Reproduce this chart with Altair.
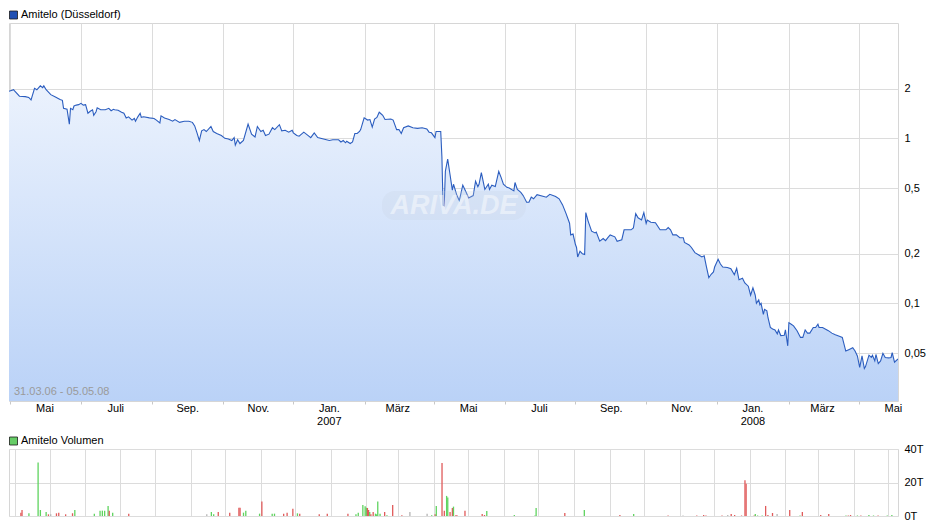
import altair as alt
import pandas as pd

# ---------------- data ----------------
price_dates = [
    "2006-03-31", "2006-04-04", "2006-04-05", "2006-04-09", "2006-04-14", "2006-04-17", "2006-04-19",
    "2006-04-22", "2006-04-24", "2006-04-27", "2006-04-29", "2006-04-30",
    "2006-05-02", "2006-05-06", "2006-05-10", "2006-05-14", "2006-05-16", "2006-05-17", "2006-05-20",
    "2006-05-22", "2006-05-23", "2006-05-25", "2006-05-26", "2006-05-28", "2006-05-30",
    "2006-06-01", "2006-06-03", "2006-06-05", "2006-06-07", "2006-06-09", "2006-06-11", "2006-06-12",
    "2006-06-14", "2006-06-15", "2006-06-18", "2006-06-22", "2006-06-25", "2006-06-27", "2006-06-29", "2006-06-30",
    "2006-07-03", "2006-07-06", "2006-07-08", "2006-07-10", "2006-07-12", "2006-07-15", "2006-07-17",
    "2006-07-18", "2006-07-20", "2006-07-22", "2006-07-23", "2006-07-25", "2006-07-30",
    "2006-08-03", "2006-08-05", "2006-08-08", "2006-08-09", "2006-08-12", "2006-08-16", "2006-08-19",
    "2006-08-21", "2006-08-25", "2006-08-29", "2006-08-31",
    "2006-09-02", "2006-09-05", "2006-09-07", "2006-09-09", "2006-09-11", "2006-09-13", "2006-09-15",
    "2006-09-17", "2006-09-21", "2006-09-23", "2006-09-26", "2006-09-30",
    "2006-10-03", "2006-10-06", "2006-10-09", "2006-10-11", "2006-10-12", "2006-10-14", "2006-10-16",
    "2006-10-19", "2006-10-23", "2006-10-26", "2006-10-29", "2006-10-31",
    "2006-11-03", "2006-11-05", "2006-11-07", "2006-11-10", "2006-11-13", "2006-11-15", "2006-11-19",
    "2006-11-21", "2006-11-24", "2006-11-27", "2006-11-30",
    "2006-12-01", "2006-12-04", "2006-12-06", "2006-12-10", "2006-12-13", "2006-12-16", "2006-12-19",
    "2006-12-22", "2006-12-27",
    "2007-01-01", "2007-01-04", "2007-01-09", "2007-01-11", "2007-01-13", "2007-01-15", "2007-01-16",
    "2007-01-19", "2007-01-21", "2007-01-23", "2007-01-25", "2007-01-27", "2007-01-28", "2007-01-31",
    "2007-02-03", "2007-02-05", "2007-02-07", "2007-02-09", "2007-02-11", "2007-02-13", "2007-02-14",
    "2007-02-16", "2007-02-18", "2007-02-23", "2007-02-25", "2007-02-28",
    "2007-03-02", "2007-03-04", "2007-03-06", "2007-03-10", "2007-03-14", "2007-03-18", "2007-03-22",
    "2007-03-26", "2007-03-28", "2007-03-30",
    "2007-04-02", "2007-04-03", "2007-04-07", "2007-04-08", "2007-04-09", "2007-04-10", "2007-04-11",
    "2007-04-13", "2007-04-15", "2007-04-17", "2007-04-18", "2007-04-21", "2007-04-23", "2007-04-26", "2007-04-29",
    "2007-05-01", "2007-05-05", "2007-05-07", "2007-05-09", "2007-05-10", "2007-05-12", "2007-05-15",
    "2007-05-18", "2007-05-19", "2007-05-21", "2007-05-24", "2007-05-27", "2007-05-29", "2007-05-31",
    "2007-06-03", "2007-06-05", "2007-06-09", "2007-06-10", "2007-06-12", "2007-06-15", "2007-06-17",
    "2007-06-20", "2007-06-22", "2007-06-24", "2007-06-26", "2007-06-29",
    "2007-07-04", "2007-07-07", "2007-07-10", "2007-07-15", "2007-07-18", "2007-07-21", "2007-07-24",
    "2007-07-27", "2007-07-28", "2007-07-30",
    "2007-08-01", "2007-08-02", "2007-08-03", "2007-08-05", "2007-08-07", "2007-08-09", "2007-08-10",
    "2007-08-12", "2007-08-15", "2007-08-18", "2007-08-19", "2007-08-22", "2007-08-25", "2007-08-27",
    "2007-08-29", "2007-08-31",
    "2007-09-04", "2007-09-06", "2007-09-10", "2007-09-12", "2007-09-18", "2007-09-20", "2007-09-22",
    "2007-09-24", "2007-09-27", "2007-09-29",
    "2007-10-01", "2007-10-02", "2007-10-05", "2007-10-09", "2007-10-13", "2007-10-18", "2007-10-20",
    "2007-10-22", "2007-10-24", "2007-10-27", "2007-10-30",
    "2007-11-02", "2007-11-03", "2007-11-07", "2007-11-09", "2007-11-12", "2007-11-15", "2007-11-18",
    "2007-11-20", "2007-11-22", "2007-11-24", "2007-11-26", "2007-11-28", "2007-11-29",
    "2007-12-02", "2007-12-04", "2007-12-06", "2007-12-10", "2007-12-13", "2007-12-16", "2007-12-18",
    "2007-12-20", "2007-12-23", "2007-12-25", "2007-12-28", "2007-12-30",
    "2008-01-01", "2008-01-03", "2008-01-04", "2008-01-06", "2008-01-07", "2008-01-08", "2008-01-10",
    "2008-01-11", "2008-01-13", "2008-01-14", "2008-01-16", "2008-01-18", "2008-01-20", "2008-01-22",
    "2008-01-23", "2008-01-25", "2008-01-28", "2008-01-29", "2008-01-31",
    "2008-02-01", "2008-02-03", "2008-02-05", "2008-02-08", "2008-02-11", "2008-02-13", "2008-02-15",
    "2008-02-17", "2008-02-19", "2008-02-22", "2008-02-24", "2008-02-26", "2008-02-27",
    "2008-03-01", "2008-03-06", "2008-03-09", "2008-03-12", "2008-03-16", "2008-03-18", "2008-03-21",
    "2008-03-24", "2008-03-27", "2008-03-29", "2008-03-31",
    "2008-04-02", "2008-04-04", "2008-04-06", "2008-04-07", "2008-04-10", "2008-04-12", "2008-04-13",
    "2008-04-15", "2008-04-16", "2008-04-18", "2008-04-20", "2008-04-22", "2008-04-24", "2008-04-27",
    "2008-04-29", "2008-04-30",
    "2008-05-02", "2008-05-05",
]
price_values = [
    1.93, 1.97, 1.93, 1.80, 1.79, 1.77, 1.71, 2.01, 1.97, 2.08, 2.03, 2.08,
    1.97, 1.84, 1.78, 1.72, 1.70, 1.52, 1.50, 1.22, 1.52, 1.49, 1.57, 1.59, 1.60,
    1.63, 1.59, 1.60, 1.42, 1.46, 1.49, 1.38, 1.45, 1.53, 1.49, 1.49, 1.52, 1.47, 1.50, 1.49,
    1.48, 1.44, 1.42, 1.33, 1.35, 1.29, 1.32, 1.27, 1.35, 1.42, 1.34, 1.35, 1.33,
    1.32, 1.29, 1.24, 1.37, 1.33, 1.30, 1.27, 1.30, 1.25, 1.27, 1.27,
    1.27, 1.25, 1.19, 1.08, 0.97, 1.11, 1.13, 1.10, 1.18, 1.10, 1.07, 1.04,
    1.00, 0.99, 0.97, 1.01, 0.91, 0.98, 0.93, 0.97, 1.22, 1.06, 1.02, 1.18,
    1.10, 1.12, 1.04, 1.06, 1.16, 1.13, 1.21, 1.11, 1.12, 1.09, 1.12,
    1.08, 1.04, 1.03, 1.09, 1.05, 1.01, 1.08, 1.01, 0.99,
    0.97, 0.98, 0.98, 0.95, 0.97, 0.94, 0.96, 0.93, 0.95, 1.07, 1.07, 1.10, 1.13, 1.33,
    1.29, 1.30, 1.17, 1.31, 1.34, 1.44, 1.42, 1.38, 1.30, 1.31, 1.29, 1.13,
    1.13, 1.07, 1.16, 1.19, 1.16, 1.15, 1.16, 1.14, 1.09, 1.08,
    1.01, 1.10, 1.10, 0.775, 0.393, 0.39, 0.632, 0.748, 0.604, 0.486, 0.527, 0.45, 0.42, 0.52, 0.47,
    0.435, 0.45, 0.55, 0.51, 0.527, 0.62, 0.49, 0.527, 0.49, 0.52, 0.51, 0.63, 0.58, 0.527,
    0.505, 0.50, 0.48, 0.54, 0.49, 0.47, 0.45, 0.41, 0.41, 0.44, 0.43, 0.456,
    0.446, 0.44, 0.458, 0.444, 0.43, 0.395, 0.35, 0.306, 0.26, 0.263,
    0.228, 0.218, 0.191, 0.207, 0.20, 0.198, 0.355, 0.315, 0.274, 0.267, 0.27, 0.238, 0.247, 0.24,
    0.25, 0.26,
    0.253, 0.238, 0.243, 0.279, 0.279, 0.286, 0.35, 0.33, 0.32, 0.355,
    0.305, 0.32, 0.31, 0.308, 0.279, 0.279, 0.288, 0.279, 0.26, 0.26, 0.25,
    0.25, 0.234, 0.226, 0.218, 0.203, 0.197, 0.191, 0.194, 0.166, 0.143, 0.15, 0.155, 0.166,
    0.185, 0.173, 0.166, 0.165, 0.162, 0.149, 0.163, 0.139, 0.142, 0.133, 0.127, 0.112,
    0.124, 0.112, 0.100, 0.105, 0.098, 0.100, 0.0857, 0.092, 0.090, 0.0818, 0.0714, 0.070, 0.069, 0.0653,
    0.069, 0.0638, 0.064, 0.069, 0.0553,
    0.0764, 0.0747, 0.073, 0.0683, 0.0622, 0.0622, 0.069, 0.066, 0.066, 0.0714, 0.0714, 0.0747, 0.0714,
    0.0714, 0.0683, 0.066, 0.0645, 0.063, 0.0622, 0.0514, 0.0526, 0.0538, 0.0514, 0.048,
    0.0409, 0.048, 0.0403, 0.0414, 0.0485, 0.047, 0.0485, 0.0448, 0.049, 0.0431, 0.0448, 0.0498, 0.047,
    0.0467, 0.047, 0.0502,
    0.044, 0.046,
]

vol_dates = [
    "2006-04-06", "2006-04-07", "2006-04-13", "2006-04-21", "2006-04-23", "2006-04-28", "2006-04-30",
    "2006-05-02", "2006-05-07", "2006-05-09", "2006-05-15", "2006-05-21", "2006-05-23",
    "2006-06-09", "2006-06-14", "2006-06-16", "2006-06-18", "2006-06-21", "2006-06-22", "2006-06-25",
    "2006-07-09", "2006-09-15", "2006-09-19", "2006-09-21", "2006-09-25",
    "2006-10-05", "2006-10-13", "2006-10-14", "2006-10-17", "2006-10-19", "2006-10-31",
    "2006-11-02", "2006-11-11", "2006-11-13", "2006-11-21", "2006-11-24", "2006-11-29",
    "2006-12-03", "2006-12-05", "2006-12-22", "2006-12-29",
    "2007-01-16", "2007-01-23", "2007-01-25", "2007-01-29", "2007-01-31",
    "2007-02-01", "2007-02-02", "2007-02-03", "2007-02-04", "2007-02-05", "2007-02-07", "2007-02-09",
    "2007-02-10", "2007-02-11", "2007-02-13", "2007-02-17", "2007-02-19", "2007-02-24",
    "2007-03-04", "2007-03-11", "2007-03-26", "2007-03-30",
    "2007-04-02", "2007-04-03", "2007-04-08", "2007-04-10", "2007-04-12", "2007-04-13", "2007-04-15",
    "2007-04-17", "2007-04-18", "2007-04-20", "2007-04-21", "2007-04-28",
    "2007-05-13", "2007-05-15", "2007-05-17", "2007-06-10", "2007-06-28", "2007-06-29",
    "2007-07-24", "2007-08-10", "2007-09-10", "2007-09-22", "2007-10-22",
    "2007-11-04", "2007-11-16", "2007-11-22", "2007-11-24",
    "2007-12-08", "2007-12-13", "2007-12-16", "2007-12-19", "2007-12-25", "2007-12-28", "2007-12-29",
    "2008-01-05", "2008-01-06", "2008-01-08", "2008-01-12", "2008-01-15", "2008-01-17", "2008-01-21",
    "2008-01-25", "2008-02-05", "2008-02-14", "2008-02-16",
    "2008-03-03", "2008-03-10", "2008-03-25", "2008-03-27", "2008-03-29",
    "2008-04-04", "2008-04-07", "2008-04-14", "2008-04-18", "2008-04-22", "2008-04-30", "2008-05-04",
]
# volume in thousands (T)
vol_values = [
    2.0, 3.6, 1.6, 32.0, 3.6, 2.4, 1.0,
    1.0, 1.6, 2.0, 1.0, 1.6, 3.6,
    1.4, 3.2, 3.2, 3.2, 6.0, 3.2, 2.0,
    1.4, 1.0, 2.4, 1.0, 2.4,
    2.0, 5.0, 5.0, 2.0, 3.2, 1.4,
    8.6, 1.4, 1.4, 1.4, 2.0, 4.4,
    1.6, 1.4, 1.0, 1.4,
    1.4, 1.0, 2.0, 6.6, 5.8,
    5.0, 4.8, 3.6, 2.4, 1.0, 2.4, 1.4,
    1.0, 8.6, 1.4, 2.4, 0.5, 6.6,
    0.5, 2.4, 1.4, 0.5,
    1.0, 6.0, 31.6, 3.2, 12.0, 11.0, 2.4,
    4.8, 5.6, 0.5, 0.5, 3.2,
    1.2, 0.6, 3.0, 0.6, 0.3, 4.8,
    1.8, 3.6, 0.6, 1.2, 0.3,
    0.3, 0.3, 0.6, 0.3,
    0.3, 0.6, 1.2, 0.6, 0.3, 21.4, 19.2,
    0.3, 1.2, 0.3, 0.3, 6.0, 0.6, 1.8,
    1.2, 3.6, 0.3, 2.4,
    0.6, 1.2, 0.3, 0.3, 0.6,
    0.3, 0.3, 0.6, 0.3, 0.3, 0.3, 0.6,
]
vol_dir = [
    "down", "down", "up", "up", "up", "up", "down",
    "flat", "down", "down", "down", "down", "up",
    "up", "up", "up", "up", "up", "down", "up",
    "down", "flat", "up", "up", "down",
    "down", "down", "down", "up", "up", "up",
    "down", "up", "up", "down", "down", "down",
    "up", "down", "down", "down",
    "down", "up", "up", "up", "up",
    "up", "down", "down", "up", "down", "down", "up",
    "up", "up", "up", "down", "up", "down",
    "down", "flat", "flat", "up",
    "down", "up", "down", "down", "up", "up", "down",
    "down", "up", "down", "down", "down",
    "down", "down", "up", "up", "up", "up",
    "down", "up", "down", "up", "down",
    "flat", "down", "down", "down",
    "down", "flat", "down", "down", "down", "down", "down",
    "down", "up", "up", "up", "down", "down", "down",
    "flat", "down", "up", "down",
    "down", "down", "up", "down", "down",
    "up", "down", "up", "up", "down", "up", "up",
]

price_ticks = [0.05, 0.1, 0.2, 0.5, 1, 2]
vol_ticks = [0, 20, 40]
month_label_dates = [
    "2006-05-01", "2006-07-01", "2006-09-01", "2006-11-01", "2007-01-01", "2007-03-01", "2007-05-01",
    "2007-07-01", "2007-09-01", "2007-11-01", "2008-01-01", "2008-03-01", "2008-05-01",
]
month_label_names = ["Mai", "Juli", "Sep.", "Nov.", "Jan.", "März", "Mai", "Juli", "Sep.", "Nov.", "Jan.", "März", "Mai"]
year_dates = ["2007-01-01", "2008-01-01"]
year_labels = ["2007", "2008"]
legend_price = "Amitelo (Düsseldorf)"
legend_volume = "Amitelo Volumen"
range_text = "31.03.06 - 05.05.08"

# ---------------- layout / style ----------------
W = 889
H1 = 378
H2 = 67
Y_MIN, Y_MAX = 0.0256, 5.0
FONT = "Liberation Sans"

month_ticks = []
for y in (2006, 2007, 2008):
    for m in range(1, 13):
        if (y == 2006 and m < 4) or (y == 2008 and m > 5):
            continue
        month_ticks.append(alt.DateTime(year=y, month=m, date=1))

X_DOMAIN = [alt.DateTime(year=2006, month=3, date=31), alt.DateTime(year=2008, month=5, date=5)]

price_df = pd.DataFrame({"date": pd.to_datetime(price_dates), "price": price_values})
vol_df = pd.DataFrame({"date": pd.to_datetime(vol_dates), "vol": vol_values, "dir": vol_dir})
mlab_df = pd.DataFrame({"date": pd.to_datetime(month_label_dates), "label": month_label_names})
year_df = pd.DataFrame({"date": pd.to_datetime(year_dates), "label": year_labels})
one = pd.DataFrame({"a": [0]})

x_price = alt.X(
    "date:T",
    scale=alt.Scale(domain=X_DOMAIN),
    axis=alt.Axis(
        values=month_ticks, labels=False, title=None, grid=True,
        gridColor="#dcdcdc", tickSize=3, tickColor="#c8c8c8", domain=False,
    ),
)
y_price = alt.Y(
    "price:Q",
    scale=alt.Scale(type="log", domain=[Y_MIN, Y_MAX], nice=False),
    axis=alt.Axis(
        orient="right", values=price_ticks,
        labelExpr="replace('' + datum.value, '.', ',')",
        title=None, grid=True, gridColor="#dcdcdc", ticks=False, domain=False,
        labelPadding=6, labelFontSize=11, labelColor="#000000", labelFont=FONT,
    ),
)

gradient = alt.Gradient(
    gradient="linear",
    stops=[alt.GradientStop(color="#ebf2fd", offset=0), alt.GradientStop(color="#bad2f7", offset=1)],
    x1=1, x2=1, y1=0, y2=1,
)

area = alt.Chart(price_df).mark_area(color=gradient, clip=True).encode(
    x=x_price, y=y_price, y2=alt.datum(Y_MIN)
)
line = alt.Chart(price_df).mark_line(color="#2b5dbf", strokeWidth=1.1, clip=True).encode(
    x="date:T", y="price:Q"
)

month_text = alt.Chart(mlab_df).mark_text(
    font=FONT, fontSize=11, color="#000000", align="center", baseline="top"
).encode(x="date:T", y=alt.value(H1 + 2), text="label:N")
year_text = alt.Chart(year_df).mark_text(
    font=FONT, fontSize=11, color="#000000", align="center", baseline="top"
).encode(x="date:T", y=alt.value(H1 + 15), text="label:N")

wm_box = alt.Chart(one).mark_rect(fill="#c9d3e3", opacity=0.25, cornerRadius=13).encode(
    x=alt.value(373), x2=alt.value(517), y=alt.value(168), y2=alt.value(197)
)
wm_text = alt.Chart(one).mark_text(
    text="ARIVA.DE", font=FONT, fontSize=27, fontWeight="bold", fontStyle="italic",
    color="#ffffff", opacity=0.45, align="center", baseline="middle",
).encode(x=alt.value(445), y=alt.value(183))

range_label = alt.Chart(one).mark_text(
    text=range_text, font=FONT, fontSize=11, color="#9a9a9a", align="left", baseline="middle"
).encode(x=alt.value(5), y=alt.value(H1 - 9))

leg_sq1 = alt.Chart(one).mark_rect(fill="#1f4fb3", stroke="#1a1a1a", strokeWidth=0.8).encode(
    x=alt.value(0.5), x2=alt.value(8.5), y=alt.value(-12), y2=alt.value(-4)
)
leg_tx1 = alt.Chart(one).mark_text(
    text=legend_price, font=FONT, fontSize=11, color="#000000", align="left", baseline="middle"
).encode(x=alt.value(12), y=alt.value(-8))

price_chart = alt.layer(
    area, line, month_text, year_text, wm_box, wm_text, range_label, leg_sq1, leg_tx1
).properties(width=W, height=H1)

bars = alt.Chart(vol_df).mark_bar(size=1.3).encode(
    x=alt.X(
        "date:T", scale=alt.Scale(domain=X_DOMAIN),
        axis=alt.Axis(values=month_ticks, labels=False, ticks=False, domain=False, grid=True,
                      gridColor="#dcdcdc", title=None),
    ),
    y=alt.Y(
        "vol:Q", scale=alt.Scale(domain=[0, 40], nice=False),
        axis=alt.Axis(orient="right", values=vol_ticks, labelExpr="datum.value + 'T'", title=None,
                      grid=True, gridColor="#dcdcdc", ticks=False, domain=False, labelPadding=6,
                      labelFontSize=11, labelColor="#000000", labelFont=FONT),
    ),
    color=alt.Color("dir:N", scale=alt.Scale(domain=["up", "down", "flat"],
                                             range=["#5fd35f", "#e05a5a", "#b4b4b4"]), legend=None),
)
leg_sq2 = alt.Chart(one).mark_rect(fill="#66cc66", stroke="#1a1a1a", strokeWidth=0.8).encode(
    x=alt.value(0.5), x2=alt.value(8.5), y=alt.value(-12), y2=alt.value(-4)
)
leg_tx2 = alt.Chart(one).mark_text(
    text=legend_volume, font=FONT, fontSize=11, color="#000000", align="left", baseline="middle"
).encode(x=alt.value(12), y=alt.value(-8))

vol_chart = alt.layer(bars, leg_sq2, leg_tx2).properties(width=W, height=H2)

chart = (
    alt.vconcat(price_chart, vol_chart, spacing=6)
    .properties(padding={"left": 0, "top": 0, "right": 0, "bottom": 0}, background="#ffffff")
    .configure_view(stroke="#d6d6d6", strokeWidth=1)
)

chart.save("out.html", embed_options={"renderer": "svg", "actions": False})
